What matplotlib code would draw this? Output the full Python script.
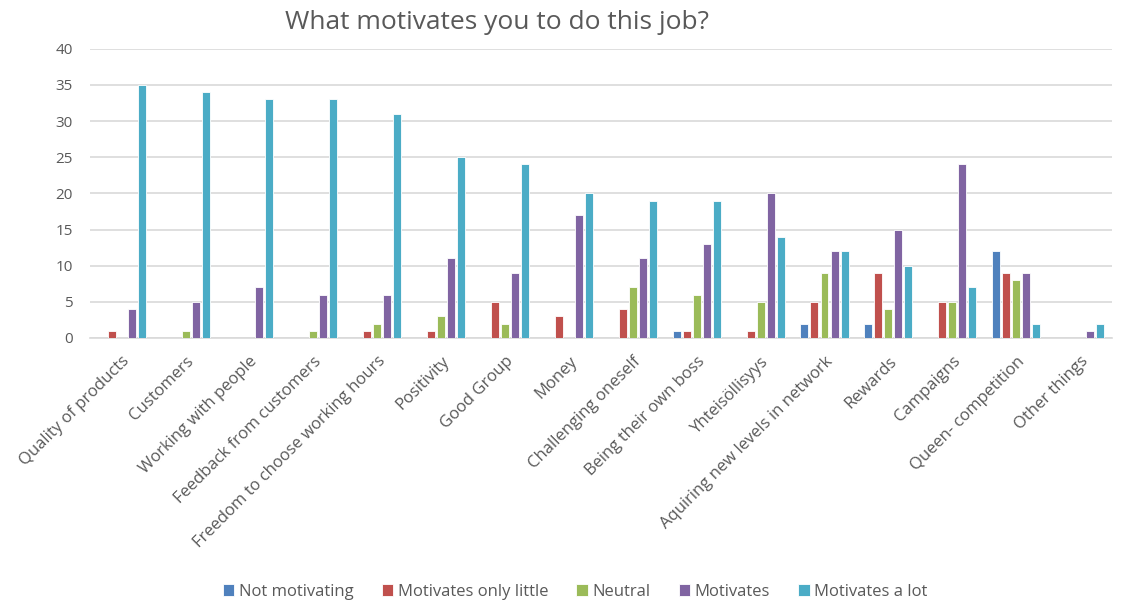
import matplotlib.pyplot as plt
import numpy as np

categories = ['Quality of products', 'Customers', 'Working with people',
              'Feedback from customers', 'Freedom to choose working hours',
              'Positivity', 'Good Group', 'Money', 'Challenging oneself',
              'Being their own boss', 'Yhteisöllisyys',
              'Aquiring new levels in network', 'Rewards', 'Campaigns',
              'Queen- competition', 'Other things']

not_motivating = [0, 0, 0, 0, 0, 0, 0, 0, 0, 1, 0, 2, 2, 0, 12, 0]
only_little = [1, 0, 0, 0, 1, 1, 5, 3, 4, 1, 1, 5, 9, 5, 9, 0]
neutral = [0, 1, 0, 1, 2, 3, 2, 0, 7, 6, 5, 9, 4, 5, 8, 0]
motivates = [4, 5, 7, 6, 6, 11, 9, 17, 11, 13, 20, 12, 15, 24, 9, 1]
motivates_lot = [35, 34, 33, 33, 31, 25, 24, 20, 19, 19, 14, 12, 10, 7, 2, 2]

series = [('Not motivating', not_motivating, '#4F81BD'),
          ('Motivates only little', only_little, '#C0504D'),
          ('Neutral', neutral, '#9BBB59'),
          ('Motivates', motivates, '#8064A2'),
          ('Motivates a lot', motivates_lot, '#4BACC6')]

plt.rcParams['font.family'] = ['Open Sans', 'DejaVu Sans']

fig = plt.figure(figsize=(11.21, 6.03), dpi=100)
ax = fig.add_axes([0.080, 0.4395, 0.912, 0.4795])

x = np.arange(len(categories))
step = 0.157
width = 0.125
for i, (name, vals, col) in enumerate(series):
    ax.bar(x + (i - 2) * step, vals, width, color=col, label=name,
           edgecolor='white', linewidth=0.6, zorder=3)

ax.set_xlim(-0.5, len(categories) - 0.5)
ax.set_ylim(0, 40)
ax.set_yticks(range(0, 41, 5))
ax.grid(axis='y', color='#D9D9D9', linewidth=1.2, zorder=0)
for s in ['top', 'right', 'left']:
    ax.spines[s].set_visible(False)
ax.spines['bottom'].set_color('#D9D9D9')
ax.spines['bottom'].set_linewidth(1.2)
ax.tick_params(axis='y', length=0, pad=12, labelsize=11, labelcolor='#595959')
ax.tick_params(axis='x', length=0, pad=11, labelsize=12, labelcolor='#595959')
ax.set_xticks(x)
ax.set_xticklabels(categories, rotation=45, ha='right', rotation_mode='anchor')

fig.text(0.443, 0.963, 'What motivates you to do this job?', ha='center', va='center',
         fontsize=19, color='#595959')

fig.legend(loc='center', bbox_to_anchor=(0.513, 0.018), ncol=5, frameon=False,
           fontsize=12, handlelength=0.7, handleheight=0.7, handletextpad=0.25,
           columnspacing=1.7, labelcolor='#595959')

fig.savefig('out.png', dpi=100)
